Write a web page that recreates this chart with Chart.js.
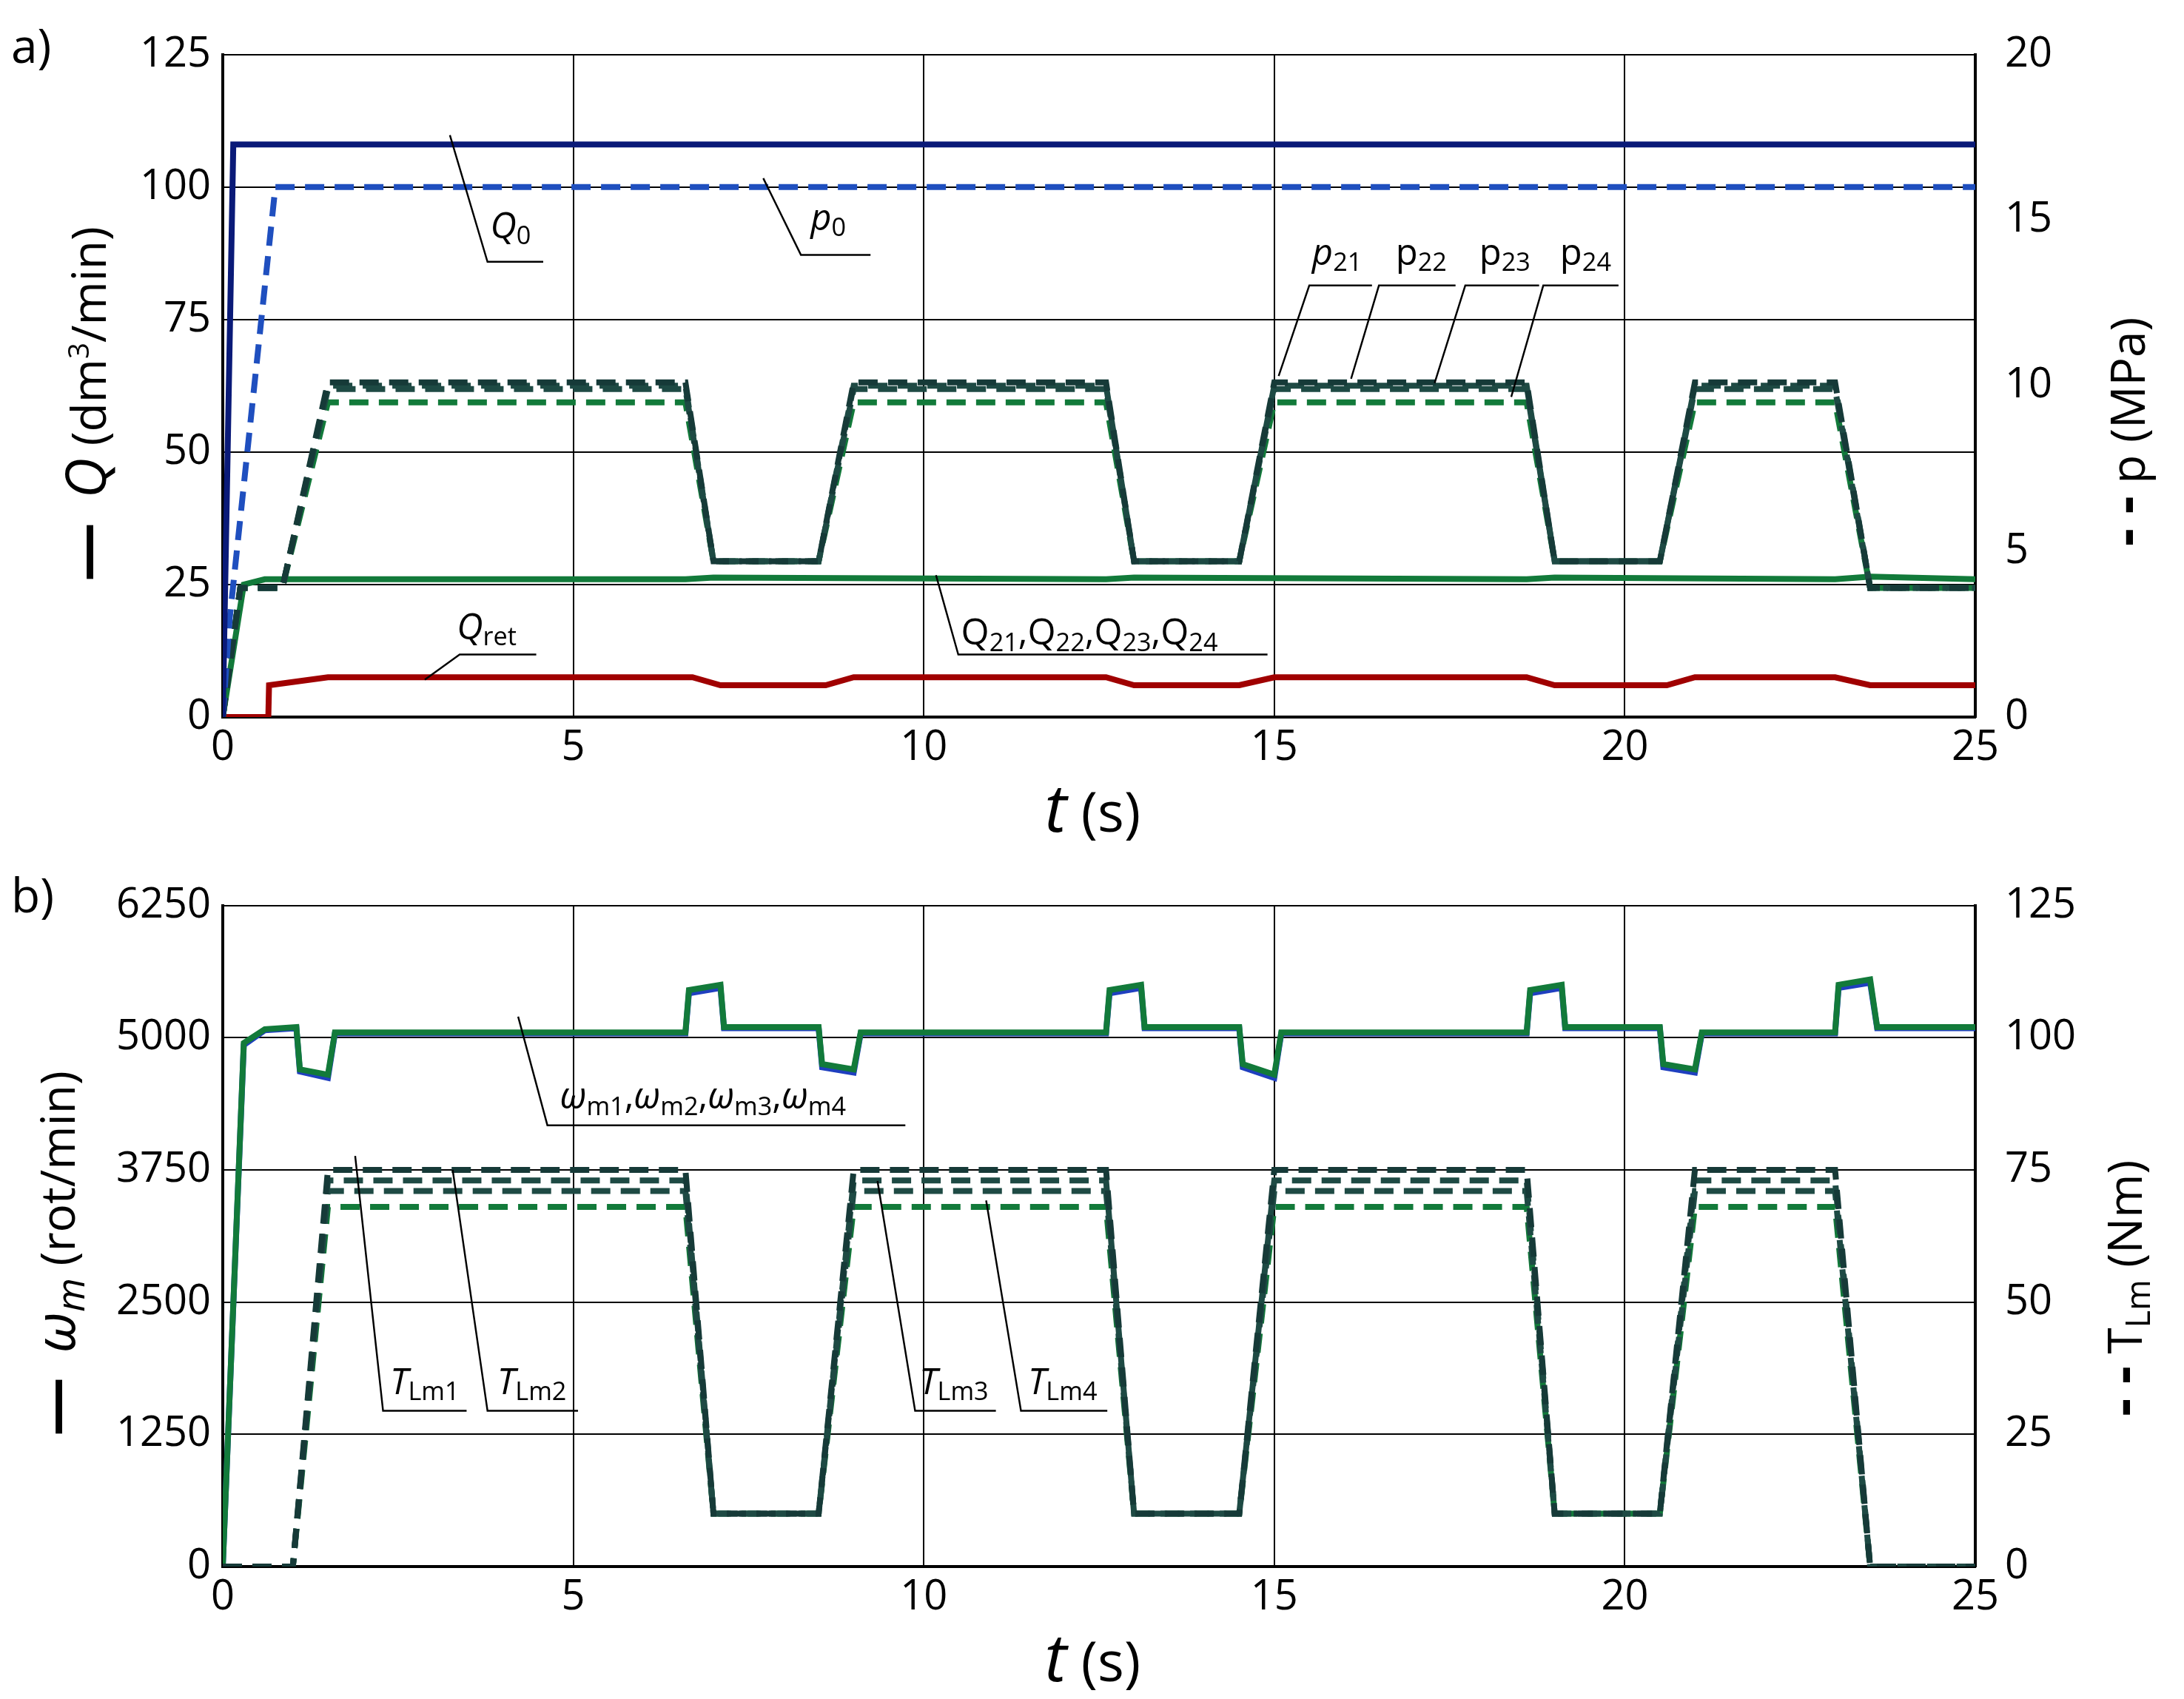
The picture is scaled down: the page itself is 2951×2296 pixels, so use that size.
<!DOCTYPE html>
<html><head><meta charset="utf-8">
<script src="https://cdn.jsdelivr.net/npm/chart.js@4/dist/chart.umd.min.js"></script>
<style>
body{margin:0;background:#fff;width:2951px;height:2296px;overflow:hidden;position:relative;font-family:"Open Sans",sans-serif}
canvas{position:absolute;left:0}
#ov{position:absolute;left:0;top:0;width:1568px;height:1220px;transform:scale(1.882);transform-origin:0 0;pointer-events:none}
#ov div{position:absolute;white-space:nowrap;font-size:26px;color:#000;line-height:1}
sub{font-size:0.7em;vertical-align:-0.25em}
</style></head><body>
<canvas id="c1" width="2951" height="1150" style="top:0;width:2951px;height:1150px"></canvas>
<canvas id="c2" width="2951" height="1146" style="top:1150px;width:2951px;height:1146px"></canvas>
<div id="ov">
<svg width="1568" height="1220" style="position:absolute;left:0;top:0" stroke="#000" stroke-width="1.3" fill="none">
<polyline points="323,97 350,188 390,188"/>
<polyline points="548,128 575,183 625,183"/>
<polyline points="918,270 940,205 985,205"/>
<polyline points="970,272 990,205 1045,205"/>
<polyline points="1030,275 1052,205 1105,205"/>
<polyline points="1085,285 1108,205 1162,205"/>
<polyline points="672,413 688,470 910,470"/>
<polyline points="305,488 330,470 385,470"/>
<polyline points="372,730 393,808 650,808"/>
<polyline points="255,830 275,1013 335,1013"/>
<polyline points="325,840 350,1013 415,1013"/>
<polyline points="630,848 657,1013 715,1013"/>
<polyline points="708,862 733,1013 795,1013"/>
</svg>
<div style="left:8px;top:15px;font-size:34px">a)</div>
<div style="left:8px;top:625px;font-size:34px">b)</div>
<div style="left:352px;top:148px"><i>Q</i><sub>0</sub></div>
<div style="left:582px;top:142px"><i>p</i><sub>0</sub></div>
<div style="left:942px;top:167px"><i>p</i><sub>21</sub></div>
<div style="left:1002px;top:167px">p<sub>22</sub></div>
<div style="left:1062px;top:167px">p<sub>23</sub></div>
<div style="left:1120px;top:167px">p<sub>24</sub></div>
<div style="left:690px;top:440px">Q<sub>21</sub>,Q<sub>22</sub>,Q<sub>23</sub>,Q<sub>24</sub></div>
<div style="left:328px;top:436px"><i>Q</i><sub>ret</sub></div>
<div style="left:402px;top:773px"><i>ω</i><sub>m1</sub>,<i>ω</i><sub>m2</sub>,<i>ω</i><sub>m3</sub>,<i>ω</i><sub>m4</sub></div>
<div style="left:280px;top:978px"><i>T</i><sub>Lm1</sub></div>
<div style="left:357px;top:978px"><i>T</i><sub>Lm2</sub></div>
<div style="left:660px;top:978px"><i>T</i><sub>Lm3</sub></div>
<div style="left:738px;top:978px"><i>T</i><sub>Lm4</sub></div>
<div style="left:750px;top:555px;font-size:40px"><i style="font-size:48px">t</i> (s)</div>
<div style="left:750px;top:1165px;font-size:40px"><i style="font-size:48px">t</i> (s)</div>
<div style="left:60px;top:290px;font-size:34px;transform:translate(-50%,-50%) rotate(-90deg)"><b style="font-size:42px">—</b>&nbsp; <i style="font-size:40px">Q</i> (dm<sup style="font-size:0.6em">3</sup>/min)</div>
<div style="left:1525px;top:310px;font-size:34px;transform:translate(-50%,-50%) rotate(-90deg)"><b style="font-size:40px">- -</b> p (MPa)</div>
<div style="left:40px;top:900px;font-size:34px;transform:translate(-50%,-50%) rotate(-90deg)"><b style="font-size:42px">—</b>&nbsp; <i style="font-size:40px">ω<sub>m</sub></i> (rot/min)</div>
<div style="left:1525px;top:925px;font-size:34px;transform:translate(-50%,-50%) rotate(-90deg)"><b style="font-size:40px">- -</b> T<sub>Lm</sub> (Nm)</div>
</div>
<script>
// ---- chart a) ----
const tQ0=[0,0.15,25], Q0=[0,108,108];
const tP0=[0,0.1,0.75,25], P0=[0,3,16,16];
const tP2=[0,0.25,0.85,1.5,6.6,7.0,8.5,9.0,12.6,13.0,14.5,15.0,18.6,19.0,20.5,21.0,23.0,23.5,25];
const P21=[0,3.9,3.9,10.1,10.1,4.7,4.7,10.1,10.1,4.7,4.7,10.1,10.1,4.7,4.7,10.1,10.1,3.9,3.9];
const P22=[0,3.9,3.9,10.0,10.0,4.7,4.7,10.0,10.0,4.7,4.7,10.0,10.0,4.7,4.7,10.0,10.0,3.9,3.9];
const P23=[0,3.9,3.9,9.9,9.9,4.7,4.7,9.9,9.9,4.7,4.7,9.9,9.9,4.7,4.7,9.9,9.9,3.9,3.9];
const P24=[0,3.9,3.9,9.5,9.5,4.7,4.7,9.5,9.5,4.7,4.7,9.5,9.5,4.7,4.7,9.5,9.5,3.9,3.9];
const tQ2=[0,0.3,0.6,6.6,7.0,12.6,13.0,18.6,19.0,23.0,23.5,25];
const Q2=[0,25,26,26,26.3,26,26.3,26,26.3,26,26.5,26];
const tQr=[0,0.65,0.66,1.5,6.7,7.1,8.6,9.0,12.6,13.0,14.5,15.0,18.6,19.0,20.6,21.0,23.0,23.5,25];
const Qr=[0,0,6,7.5,7.5,6,6,7.5,7.5,6,6,7.5,7.5,6,6,7.5,7.5,6,6];
// ---- chart b) ----
const tW=[0,0.3,0.6,1.05,1.1,1.5,1.6,6.6,6.65,7.1,7.15,8.5,8.55,9.0,9.1,12.6,12.65,13.1,13.15,14.5,14.55,15.0,15.1,18.6,18.65,19.1,19.15,20.5,20.55,21.0,21.1,23.0,23.05,23.5,23.6,25];
const W1=[0,4950,5080,5100,4700,4650,5050,5050,5450,5500,5100,5100,4750,4700,5050,5050,5450,5500,5100,5100,4750,4650,5050,5050,5450,5500,5100,5100,4750,4700,5050,5050,5500,5550,5100,5100];
const W2=[0,4930,5070,5090,4680,4620,5040,5040,5420,5470,5090,5090,4720,4670,5040,5040,5420,5470,5090,5090,4720,4620,5040,5040,5420,5470,5090,5090,4720,4670,5040,5040,5470,5520,5090,5090];
const tT=[0,1.0,1.5,6.6,7.0,8.5,9.0,12.6,13.0,14.5,15.0,18.6,19.0,20.5,21.0,23.0,23.5,25];
const T1=[0,0,75,75,10,10,75,75,10,10,75,75,10,10,75,75,0,0];
const T2=[0,0,73,73,10,10,73,73,10,10,73,73,10,10,73,73,0,0];
const T3=[0,0,71,71,10,10,71,71,10,10,71,71,10,10,71,71,0,0];
const T4=[0,0,68,68,10,10,68,68,10,10,68,68,10,10,68,68,0,0];
const xTicks=[0,5,10,15,20,25];

const zip=(t,v)=>t.map((x,i)=>({x,y:v[i]}));
let ord=0;
const ds=(t,v,col,axis,dash,w)=>({data:zip(t,v),borderColor:col,borderWidth:w||8,borderDash:dash?[26,14]:[],yAxisID:axis,pointRadius:0,tension:0,fill:false,order:-(ord++)});
const F={family:"Open Sans",size:56};
function opts(lmax,lstep,rmax,rstep,bottomH,padTop){
 const fitW=w=>s=>{s.width=w};
 return {animation:false,responsive:false,maintainAspectRatio:false,
 layout:{padding:{top:padTop,right:0,left:0,bottom:0}},
 plugins:{legend:{display:false},tooltip:{enabled:false}},
 scales:{
  x:{type:'linear',min:0,max:25,afterBuildTicks:a=>{a.ticks=xTicks.map(v=>({value:v}))},
     ticks:{font:F,color:'#000',padding:8,callback:v=>String(v)},grid:{color:'#000',lineWidth:2,tickLength:0,drawTicks:false},border:{color:'#000',width:4},afterFit:s=>{s.height=bottomH}},
  y:{position:'left',min:0,max:lmax,ticks:{stepSize:lstep,font:F,color:'#000',padding:16,callback:v=>String(v)},grid:{color:'#000',lineWidth:2,drawTicks:false},border:{color:'#000',width:4},afterFit:fitW(301)},
  y2:{position:'right',min:0,max:rmax,ticks:{stepSize:rstep,font:F,color:'#000',padding:40,callback:v=>String(v)},grid:{display:false,drawTicks:false},border:{color:'#000',width:4},afterFit:fitW(282)}
 }};
}
new Chart(document.getElementById('c1'),{type:'line',data:{datasets:[
 ds(tQr,Qr,'#a00000','y'),
 ds(tQ2,Q2,'#127a3a','y'),
 ds(tP2,P24,'#127a3a','y2',true),
 ds(tP2,P23,'#1e4a44','y2',true),
 ds(tP2,P22,'#1e4a44','y2',true),
 ds(tP2,P21,'#163a38','y2',true),
 ds(tP0,P0,'#1f4fbf','y2',true),
 ds(tQ0,Q0,'#0a1a78','y')
]},options:opts(125,25,20,5,181,50)});
ord=0;
new Chart(document.getElementById('c2'),{type:'line',data:{datasets:[
 ds(tW,W2,'#1f3fbf','y'),
 ds(tW,W1,'#127a3a','y'),
 ds(tT,T4,'#127a3a','y2',true),
 ds(tT,T3,'#1e4a44','y2',true),
 ds(tT,T2,'#1e4a44','y2',true),
 ds(tT,T1,'#163a38','y2',true)
]},options:opts(6250,1250,125,25,179,52)});
</script></body></html>
